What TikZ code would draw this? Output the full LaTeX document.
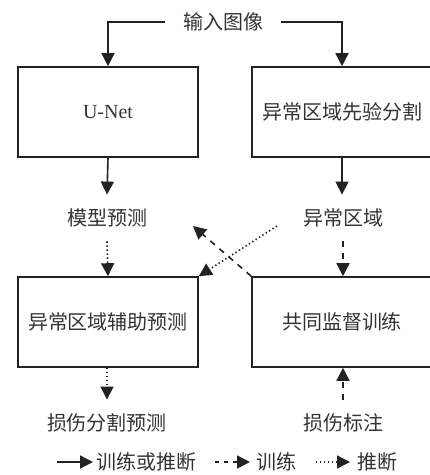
\documentclass[tikz,border=0pt]{standalone}
\usepackage{fontspec}
\setmainfont{Liberation Serif}
\newfontfamily\cjk{Noto Sans CJK SC}
\usetikzlibrary{arrows.meta}
\definecolor{ink}{HTML}{222222}
\definecolor{txt}{HTML}{333333}
\tikzset{
  box/.style={draw=ink, line width=1.6pt, minimum width=180pt, minimum height=90pt, inner sep=0pt, font=\fontsize{20}{23}\selectfont\cjk, text=txt},
  lbl/.style={font=\fontsize{20}{23}\selectfont\cjk, text=txt, inner xsep=0pt, inner ysep=14pt},
  tip/.style={-{Triangle[length=13pt,width=13pt]}},
  solidarr/.style={tip, draw=ink, line width=1.6pt},
  dottedarr/.style={tip, draw=ink, line width=1.6pt, dash pattern=on 1.4pt off 2.6pt},
  dashedarr/.style={tip, draw=ink, line width=1.6pt, dash pattern=on 6pt off 6pt},
}
\begin{document}
\begin{tikzpicture}[x=1pt,y=-1pt]
\useasboundingbox (0,0) rectangle (430,475);
\node[lbl, inner xsep=18pt] (in) at (223,22) {输入图像};
\node[box] (tL) at (108,112) {\fontspec{Liberation Serif}U-Net};
\node[box] (tR) at (342,112) {异常区域先验分割};
\node[box] (bL) at (108,322) {异常区域辅助预测};
\node[box] (bR) at (342,322) {共同监督训练};
\node[lbl] (mp) at (107,218) {模型预测};
\node[lbl] (ar) at (343,218) {异常区域};
\node[lbl] (out) at (107,423) {损伤分割预测};
\node[lbl] (gt) at (343,423) {损伤标注};
\draw[solidarr] (in.west) -| (tL.north);
\draw[solidarr] (in.east) -| (tR.north);
\draw[solidarr] (tL.south) -- (mp.north);
\draw[solidarr] (tR.south) -- (tR.south |- ar.north);
\draw[dottedarr] (mp.south) -- (bL.north);
\draw[dashedarr] (ar.south) -- (bR.north -| ar.south);
\draw[dottedarr] (bL.south -| out.north) -- (out.north);
\draw[dashedarr] (gt.north) -- (bR.south -| gt.north);
\coordinate (ds) at (277,226);
\coordinate (dd) at (193,226);
\draw[dottedarr] (ds) -- (bL.north east);
\draw[dashedarr] (bR.north west) -- (dd);
% legend
\coordinate (l1a) at (57,462); \coordinate (l1b) at (93,462);
\coordinate (l2a) at (215,462); \coordinate (l2b) at (250,462);
\coordinate (l3a) at (316,462); \coordinate (l3b) at (350,462);
\draw[solidarr, line width=1.4pt] (l1a) -- (l1b);
\draw[dashedarr, line width=1.4pt, dash pattern=on 4pt off 5pt] (l2a) -- (l2b);
\draw[dottedarr, line width=1.4pt] (l3a) -- (l3b);
\node[lbl, anchor=west, inner ysep=0pt] (t1) at (96,462) {训练或推断};
\node[lbl, anchor=west, inner ysep=0pt] (t2) at (256,462) {训练};
\node[lbl, anchor=west, inner ysep=0pt] (t3) at (357,462) {推断};
\end{tikzpicture}
\end{document}
